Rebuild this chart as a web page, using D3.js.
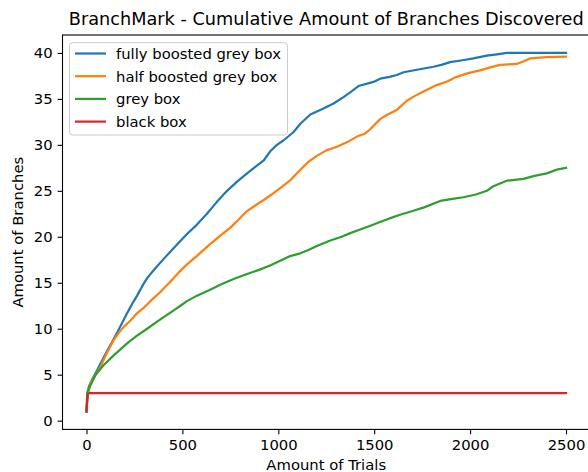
<!DOCTYPE html>
<html><head><meta charset="utf-8">
<script src="https://cdn.jsdelivr.net/npm/d3@7"></script>
<style>body{margin:0;background:#fff}svg{display:block}text{font-family:"DejaVu Sans",sans-serif}</style>
</head><body><svg id="c" width="588" height="472"></svg>
<script>
const seriesNames = ["fully boosted grey box","half boosted grey box","grey box","black box"];
const seriesColors = ["#1f77b4","#ff7f0e","#2ca02c","#d62728"];
const fullyX = [0,5,12,30,56,80,108,135,160,185,212,238,264,290,316,360,403,460,524,575,628,680,733,785,837,880,924,958,993,1028,1080,1115,1167,1230,1288,1340,1380,1418,1496,1531,1580,1618,1653,1730,1809,1850,1896,1960,2017,2087,2140,2191,2250,2350,2500];
const fullyY = [1,2.5,3.7,4.5,5.5,6.5,7.6,8.6,9.6,10.6,11.7,12.7,13.6,14.6,15.5,16.6,17.6,18.9,20.3,21.3,22.5,23.8,25.0,26.0,26.9,27.6,28.3,29.3,30.0,30.5,31.4,32.3,33.3,33.9,34.5,35.2,35.8,36.4,36.85,37.2,37.4,37.6,37.9,38.2,38.5,38.7,39.0,39.2,39.4,39.7,39.85,40.0,40.0,40.0,40.0];
const halfX = [0,5,21,45,73,105,142,170,194,230,264,300,333,385,437,480,524,575,628,690,750,790,837,880,924,965,1010,1060,1115,1160,1201,1250,1306,1360,1410,1450,1479,1531,1570,1618,1670,1710,1757,1826,1880,1930,1990,2052,2100,2156,2200,2243,2280,2312,2400,2500];
const halfY = [1,2.6,4.07,4.9,5.87,7.3,8.77,9.6,10.2,10.9,11.7,12.3,13.0,14.0,15.1,16.1,17.0,17.9,18.9,20.0,21.0,21.8,22.8,23.4,24.0,24.6,25.3,26.1,27.3,28.2,28.8,29.4,29.8,30.3,30.9,31.2,31.7,32.8,33.3,33.8,34.8,35.3,35.8,36.5,36.9,37.4,37.8,38.1,38.4,38.7,38.75,38.8,39.1,39.4,39.55,39.6];
const greyX = [0,4,20,47,90,142,212,260,316,370,420,455,490,524,576,650,700,767,830,900,960,1010,1062,1115,1160,1201,1271,1330,1375,1427,1480,1530,1580,1635,1700,1760,1844,1900,1965,2030,2087,2121,2191,2278,2330,2399,2451,2500];
const greyY = [1,3.1,3.8,4.97,6.05,7.1,8.4,9.2,10.0,10.8,11.5,12.0,12.5,13.0,13.6,14.3,14.8,15.4,15.9,16.4,16.9,17.4,17.9,18.2,18.6,19.0,19.6,20.0,20.4,20.8,21.2,21.6,22.0,22.4,22.8,23.2,23.9,24.1,24.3,24.6,25.0,25.5,26.1,26.3,26.6,26.9,27.3,27.5];
const blackX = [0,3,7,15,2500];
const blackY = [1,2,2.9,3,3];
const xTicks = [0,500,1000,1500,2000,2500];
const yTicks = [0,5,10,15,20,25,30,35,40];

const seriesX = [fullyX, halfX, greyX, blackX];
const seriesY = [fullyY, halfY, greyY, blackY];

const svg = d3.select("#c");
const L = 62.5, R = 590, T = 35, B = 429.4;
const x = d3.scaleLinear().domain([-125, 2625]).range([L, R]);
const y = d3.scaleLinear().domain([-0.95, 41.95]).range([B, T]);
const fs = 14.8;

const line = d3.line().x(d => x(d[0])).y(d => y(d[1]));
const g = svg.append("g");
seriesX.forEach((xs, i) => {
  const pts = xs.map((v, j) => [v, seriesY[i][j]]);
  g.append("path").attr("d", line(pts)).attr("fill", "none")
    .attr("stroke", seriesColors[i]).attr("stroke-width", 2.2)
    .attr("stroke-linejoin", "round").attr("stroke-linecap", "square");
});

// axes
const xAxis = d3.axisBottom(x).tickValues(xTicks).tickSize(4.9).tickPadding(4.9).tickFormat(d3.format("d"));
const yAxis = d3.axisLeft(y).tickValues(yTicks).tickSize(4.9).tickPadding(4.9).tickFormat(d3.format("d"));
const gx = svg.append("g").attr("transform", `translate(0,${B})`).call(xAxis);
const gy = svg.append("g").attr("transform", `translate(${L},0)`).call(yAxis);
[gx, gy].forEach(a => {
  a.select(".domain").remove();
  a.selectAll(".tick line").attr("stroke", "#000").attr("stroke-width", 1.1);
  a.selectAll(".tick text").attr("font-size", fs).attr("fill", "#000").attr("font-family", "DejaVu Sans");
});
// spines
svg.append("rect").attr("x", L).attr("y", T).attr("width", R - L).attr("height", B - T)
  .attr("fill", "none").attr("stroke", "#000").attr("stroke-width", 1.1);

// title and labels
svg.append("text").attr("x", (L + R) / 2).attr("y", 25).attr("text-anchor", "middle")
  .attr("font-size", 17.7).text("BranchMark - Cumulative Amount of Branches Discovered");
svg.append("text").attr("x", (L + R) / 2).attr("y", 470).attr("text-anchor", "middle")
  .attr("font-size", fs).text("Amount of Trials");
svg.append("text").attr("transform", `translate(23,${(T + B) / 2}) rotate(-90)`).attr("text-anchor", "middle")
  .attr("font-size", fs).text("Amount of Branches");

// legend
const lg = svg.append("g");
lg.append("rect").attr("x", 69.5).attr("y", 42.7).attr("width", 218).attr("height", 92.3)
  .attr("rx", 3).attr("fill", "#fff").attr("fill-opacity", 0.8).attr("stroke", "#cccccc").attr("stroke-width", 1);
seriesNames.forEach((n, i) => {
  const yy = 53.5 + i * 22.7;
  lg.append("line").attr("x1", 75).attr("x2", 106).attr("y1", yy).attr("y2", yy)
    .attr("stroke", seriesColors[i]).attr("stroke-width", 2.2);
  lg.append("text").attr("x", 116).attr("y", yy + 5.3).attr("font-size", fs).text(n);
});
</script></body></html>
